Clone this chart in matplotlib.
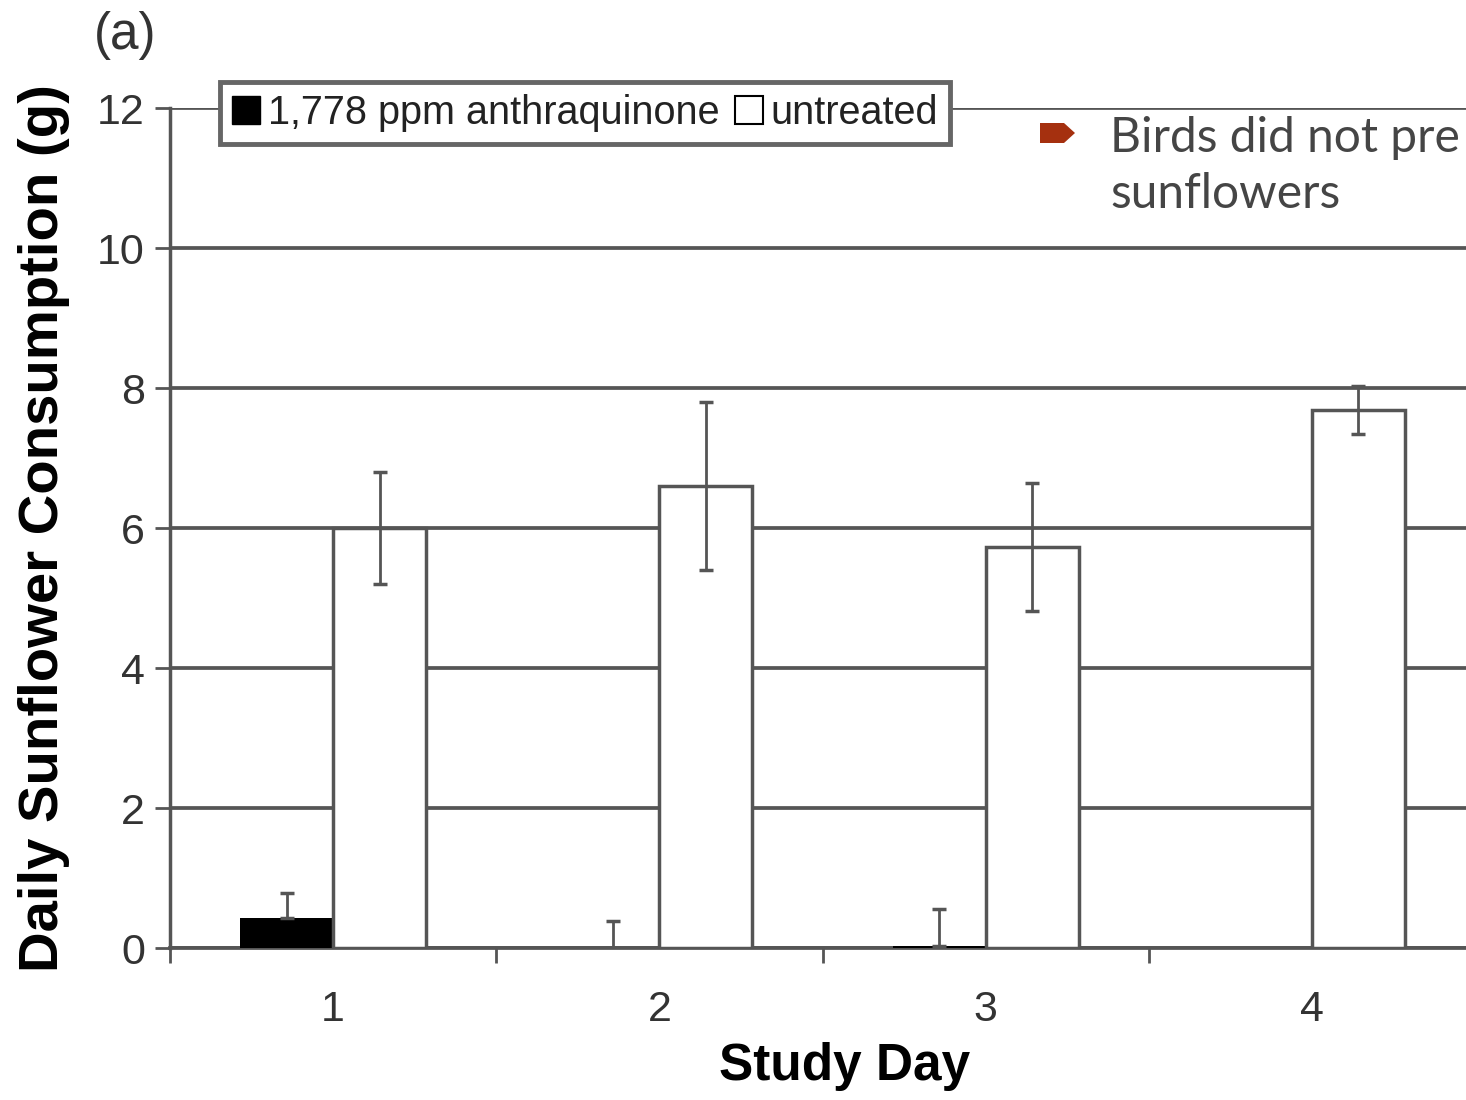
import numpy as np
import matplotlib
matplotlib.use("Agg")
import matplotlib.pyplot as plt
from matplotlib.patches import Patch, Polygon

plt.rcParams['font.family'] = ['Liberation Sans', 'DejaVu Sans']

days = [1, 2, 3, 4]
day_labels = ['1', '2', '3', '4']
treated = [0.43, 0.0, 0.03, 0.0]
treated_err = [0.36, 0.39, 0.53, 0.0]
untreated = [6.0, 6.6, 5.73, 7.69]
untreated_err = [0.8, 1.2, 0.91, 0.34]
legend_labels = ['1,778 ppm anthraquinone', 'untreated']

W, H = 1466, 1100
fig = plt.figure(figsize=(W / 100, H / 100), dpi=100)
ax = fig.add_axes([170 / W, 1 - 948 / H, (1475 - 170) / W, (948 - 108) / H])

gray = '#555555'
x = np.array(days, dtype=float)
bw = 0.285
off = 0.1425

ax.bar(x - off, treated, bw, color='black', linewidth=0, zorder=3)
ax.bar(x + off, untreated, bw, color='white', edgecolor=gray, linewidth=2.5, zorder=3)

# treated: upper error only
te = np.array(treated_err)
mask = te > 0
ax.errorbar((x - off)[mask], np.array(treated)[mask],
            yerr=[np.zeros(mask.sum()), te[mask]], fmt='none',
            ecolor=gray, elinewidth=2, capsize=5, capthick=2.5, zorder=4)
ax.errorbar(x + off, untreated, yerr=untreated_err, fmt='none',
            ecolor=gray, elinewidth=2, capsize=5, capthick=2.5, zorder=4)

ax.set_xlim(0.5, 4.5)
ax.set_ylim(0, 12)
ax.set_yticks(np.arange(0, 13, 2))
ax.yaxis.grid(True, color=gray, linewidth=2.7, zorder=1)
ax.set_axisbelow(True)

ax.set_xticks(days)
ax.set_xticklabels(day_labels)
ax.set_xticks(np.arange(0.5, 5.0, 1.0), minor=True)
ax.tick_params(axis='x', which='major', length=0, pad=30, labelsize=31, labelcolor='#333333')
ax.tick_params(axis='x', which='minor', length=11, width=2, color=gray, direction='out')
ax.tick_params(axis='y', length=11, width=2, color=gray, pad=7, labelsize=31, labelcolor='#333333')

for s in ['top', 'right']:
    ax.spines[s].set_visible(False)
ax.spines['left'].set_color(gray)
ax.spines['left'].set_linewidth(2.5)
ax.spines['bottom'].set_color(gray)
ax.spines['bottom'].set_linewidth(2.7)

ax.set_xlabel('Study Day', fontsize=37, fontweight='bold')
ax.xaxis.set_label_coords(0.517, -0.112)
ax.set_ylabel('Daily Sunflower Consumption (g)', fontsize=40.5, fontweight='bold')
ax.yaxis.set_label_coords(-0.077, 0.50)

fig.text(94 / W, 1 - 36 / H, '(a)', fontsize=37, color='#333333', va='center', ha='left')

handles = [Patch(facecolor='black', edgecolor='black'),
           Patch(facecolor='white', edgecolor='black', linewidth=1.5)]
leg = fig.legend(handles, legend_labels, loc='upper left',
                 bbox_to_anchor=(220 / W, 1 - 82 / H), ncol=2, fontsize=28.5,
                 handlelength=0.7, handleheight=0.7, handletextpad=0.2,
                 columnspacing=0.4, borderpad=0.3, borderaxespad=0,
                 fancybox=False, framealpha=1)
leg.get_frame().set_edgecolor('#666666')
leg.get_frame().set_linewidth(3.5)
for t in leg.get_texts():
    t.set_color('#222222')

# slide overlay: bullet and text
pts = [(1040, 123), (1064, 123), (1075, 133), (1064, 143), (1040, 143)]
fig.patches.append(Polygon([(px / W, 1 - py / H) for px, py in pts], closed=True,
                           transform=fig.transFigure, facecolor='#A5300F',
                           edgecolor='none'))
fig.text(1110 / W, 1 - 152 / H, 'Birds did not pre', fontsize=34.5, family='Lato',
         color='#454545', va='baseline', ha='left')
fig.text(1110 / W, 1 - 208 / H, 'sunflowers', fontsize=34.5, family='Lato',
         color='#454545', va='baseline', ha='left')

fig.savefig('out.png', dpi=100)
